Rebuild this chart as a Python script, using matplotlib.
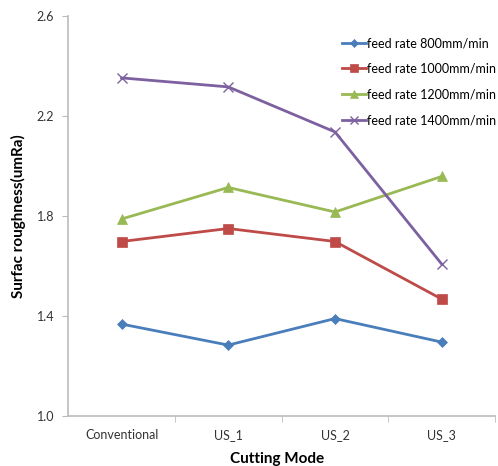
import matplotlib.pyplot as plt
import numpy as np

plt.rcParams["font.family"] = ["Lato", "DejaVu Sans"]

modes = ["Conventional", "US_1", "US_2", "US_3"]
series_names = [
    "feed rate 800mm/min",
    "feed rate 1000mm/min",
    "feed rate 1200mm/min",
    "feed rate 1400mm/min",
]
rate_800 = [1.368, 1.284, 1.390, 1.296]
rate_1000 = [1.698, 1.750, 1.698, 1.468]
rate_1200 = [1.788, 1.914, 1.816, 1.958]
rate_1400 = [2.352, 2.316, 2.136, 1.608]

colors = ["#4A7EBB", "#BE4B48", "#98B954", "#7D60A0"]
markers = ["D", "s", "^", "x"]
msizes = [5, 7, 7, 7]

fig = plt.figure(figsize=(4.98, 4.66), dpi=100)
ax = fig.add_axes([0.137, 0.107, 0.857, 0.859])

x = np.arange(len(modes))
for vals, name, c, m, ms in zip(
    [rate_800, rate_1000, rate_1200, rate_1400], series_names, colors, markers, msizes
):
    ax.plot(x, vals, color=c, marker=m, markersize=ms, linewidth=2, label=name,
            markeredgewidth=1 if m == "x" else 0.5)

ax.set_xlim(-0.5, 3.5)
ax.set_ylim(1.0, 2.6)
ax.set_yticks([1.0, 1.4, 1.8, 2.2, 2.6])
ax.set_yticklabels(["1.0", "1.4", "1.8", "2.2", "2.6"])
ax.set_xticks(x)
ax.set_xticklabels(modes)
ax.set_xticks([0.5, 1.5, 2.5, 3.5], minor=True)
ax.tick_params(axis="x", which="major", length=0, pad=9, labelsize=9, labelcolor="#333333")
ax.tick_params(axis="x", which="minor", length=4, color="#BBBBBB")
ax.tick_params(axis="y", length=4, color="#BBBBBB", labelsize=9, labelcolor="#333333", pad=6)

for s in ["top", "right"]:
    ax.spines[s].set_visible(False)
for s in ["left", "bottom"]:
    ax.spines[s].set_color("#BBBBBB")
    ax.spines[s].set_linewidth(1.2)

ax.set_ylabel("Surfac roughness(umRa)", fontsize=11, fontweight="bold", labelpad=8)
ax.set_xlabel("Cutting Mode", fontsize=11, fontweight="bold", labelpad=8, x=0.49)

ax.legend(loc="upper right", bbox_to_anchor=(1.03, 0.975), frameon=False,
          fontsize=9, handlelength=1.9, handletextpad=0.1, labelspacing=1.1,
          markerscale=0.9)

fig.savefig("out.png", dpi=100)
